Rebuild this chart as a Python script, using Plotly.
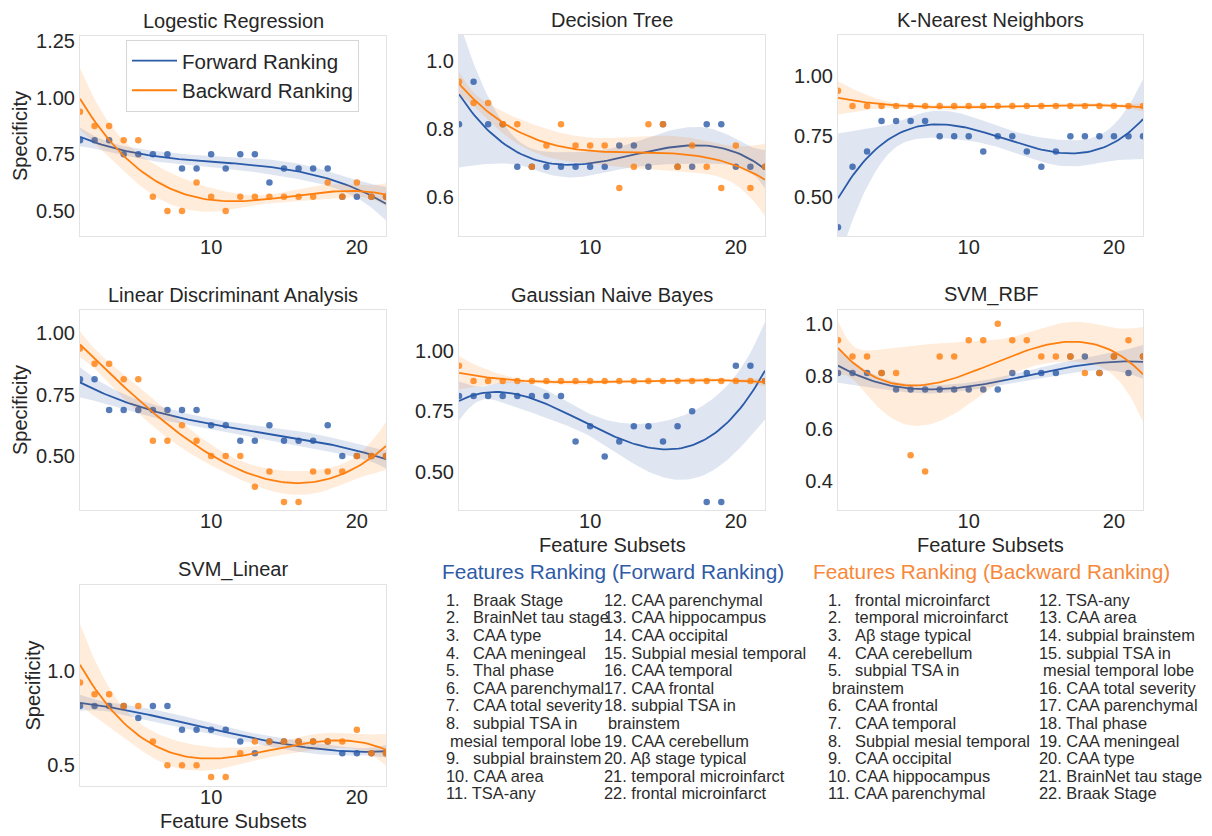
import numpy as np
import plotly.graph_objects as go

# ---------------------------------------------------------------- data
FEATURE_SUBSETS = [1, 2, 3, 4, 5, 6, 7, 8, 9, 10, 11, 12, 13, 14, 15, 16, 17, 18, 19, 20, 21, 22]

LR_FORWARD = [0.8125, 0.8125, 0.8125, 0.75, 0.75, 0.75, 0.75, 0.6875, 0.6875, 0.75, 0.6875,
              0.75, 0.75, 0.625, 0.6875, 0.6875, 0.6875, 0.6875, 0.5625, 0.5625, 0.5625, 0.5625]
LR_BACKWARD = [0.9375, 0.875, 0.875, 0.8125, 0.8125, 0.5625, 0.5, 0.5, 0.625, 0.5625, 0.5,
               0.5625, 0.5625, 0.5625, 0.5625, 0.5625, 0.5625, 0.625, 0.5625, 0.625, 0.5625, 0.5625]

DT_FORWARD = [0.8125, 0.9375, 0.8125, 0.8125, 0.6875, 0.6875, 0.6875, 0.6875, 0.6875, 0.6875, 0.6875,
              0.75, 0.75, 0.6875, 0.8125, 0.6875, 0.6875, 0.8125, 0.8125, 0.6875, 0.6875, 0.6875]
DT_BACKWARD = [0.9375, 0.875, 0.875, 0.8125, 0.8125, 0.6875, 0.75, 0.8125, 0.75, 0.75, 0.75,
               0.625, 0.6875, 0.8125, 0.8125, 0.6875, 0.75, 0.6875, 0.625, 0.75, 0.625, 0.6875]

KNN_FORWARD = [0.375, 0.625, 0.6875, 0.8125, 0.8125, 0.8125, 0.8125, 0.75, 0.75, 0.75, 0.6875,
               0.75, 0.75, 0.6875, 0.625, 0.6875, 0.75, 0.75, 0.75, 0.75, 0.75, 0.75]
KNN_BACKWARD = [0.9375, 0.875, 0.875, 0.875, 0.875, 0.875, 0.875, 0.875, 0.875, 0.875, 0.875,
                0.875, 0.875, 0.875, 0.875, 0.875, 0.875, 0.875, 0.875, 0.875, 0.875, 0.875]

LDA_FORWARD = [0.8125, 0.8125, 0.6875, 0.6875, 0.6875, 0.6875, 0.6875, 0.6875, 0.6875, 0.625, 0.625,
               0.5625, 0.5625, 0.625, 0.5625, 0.5625, 0.5625, 0.625, 0.5, 0.5, 0.5, 0.5]
LDA_BACKWARD = [0.9375, 0.875, 0.875, 0.8125, 0.8125, 0.5625, 0.5625, 0.625, 0.5625, 0.5, 0.5,
                0.5, 0.375, 0.4375, 0.3125, 0.3125, 0.4375, 0.4375, 0.4375, 0.5, 0.5, 0.5]

GNB_FORWARD = [0.8125, 0.8125, 0.8125, 0.8125, 0.8125, 0.8125, 0.8125, 0.8125, 0.625, 0.6875, 0.5625,
               0.625, 0.6875, 0.6875, 0.625, 0.6875, 0.75, 0.375, 0.375, 0.9375, 0.9375, 0.875]
GNB_BACKWARD = [0.9375, 0.875, 0.875, 0.875, 0.875, 0.875, 0.875, 0.875, 0.875, 0.875, 0.875,
                0.875, 0.875, 0.875, 0.875, 0.875, 0.875, 0.875, 0.875, 0.875, 0.875, 0.875]

RBF_FORWARD = [0.8125, 0.8125, 0.8125, 0.8125, 0.75, 0.75, 0.75, 0.75, 0.75, 0.75, 0.75,
               0.75, 0.8125, 0.8125, 0.8125, 0.8125, 0.875, 0.875, 0.8125, 0.875, 0.8125, 0.875]
RBF_BACKWARD = [0.9375, 0.875, 0.875, 0.8125, 0.8125, 0.5, 0.4375, 0.875, 0.875, 0.9375, 0.9375,
                1.0, 0.9375, 0.9375, 0.875, 0.875, 0.875, 0.8125, 0.8125, 0.875, 0.9375, 0.875]

LIN_FORWARD = [0.8125, 0.8125, 0.8125, 0.8125, 0.75, 0.8125, 0.8125, 0.6875, 0.6875, 0.6875, 0.6875,
               0.625, 0.5625, 0.625, 0.625, 0.625, 0.625, 0.625, 0.5625, 0.5625, 0.5625, 0.5625]
LIN_BACKWARD = [0.9375, 0.875, 0.875, 0.8125, 0.8125, 0.625, 0.5, 0.5, 0.5, 0.4375, 0.4375,
                0.5625, 0.625, 0.625, 0.625, 0.625, 0.625, 0.625, 0.625, 0.6875, 0.5625, 0.5625]

MODEL_NAMES = ["Logestic Regression", "Decision Tree", "K-Nearest Neighbors",
               "Linear Discriminant Analysis", "Gaussian Naive Bayes", "SVM_RBF", "SVM_Linear"]

FORWARD_RANKING = ["Braak Stage", "BrainNet tau stage", "CAA type", "CAA meningeal", "Thal phase",
                   "CAA parenchymal", "CAA total severity", "subpial TSA in\nmesial temporal lobe",
                   "subpial brainstem", "CAA area", "TSA-any", "CAA parenchymal", "CAA hippocampus",
                   "CAA occipital", "Subpial mesial temporal", "CAA temporal", "CAA frontal",
                   "subpial TSA in\nbrainstem", "CAA cerebellum", "Aβ stage typical",
                   "temporal microinfarct", "frontal microinfarct"]
BACKWARD_RANKING = ["frontal microinfarct", "temporal microinfarct", "Aβ stage typical", "CAA cerebellum",
                    "subpial TSA in\nbrainstem", "CAA frontal", "CAA temporal", "Subpial mesial temporal",
                    "CAA occipital", "CAA hippocampus", "CAA parenchymal", "TSA-any", "CAA area",
                    "subpial brainstem", "subpial TSA in\nmesial temporal lobe", "CAA total severity",
                    "CAA parenchymal", "Thal phase", "CAA meningeal", "CAA type", "BrainNet tau stage",
                    "Braak Stage"]

# ---------------------------------------------------------------- style
W, H = 1212, 836
FONT = "Liberation Sans, Arial, sans-serif"
TXT = "#262626"
BLUE = "#2a5aa8"
ORANGE = "#ff7f0e"
BLUE_BAND = "rgba(42,90,168,0.15)"
ORANGE_BAND = "rgba(255,127,14,0.15)"


def px_x(p):
    return p / W


def px_y(p):
    return 1 - p / H


def poly_fit_band(x, y, order=3, n=100, z=1.96):
    """Cubic least-squares fit with a 95% band from leverage-adjusted (HC3) errors."""
    x = np.asarray(x, float)
    y = np.asarray(y, float)
    grid = np.linspace(x.min(), x.max(), n)
    X = np.vander(x, order + 1)
    bread = np.linalg.inv(X.T @ X)
    beta = bread @ X.T @ y
    resid = y - X @ beta
    lev = np.einsum("ij,jk,ik->i", X, bread, X)
    w = (resid / (1 - lev)) ** 2
    cov = bread @ (X.T * w) @ X @ bread
    G = np.vander(grid, order + 1)
    fit = G @ beta
    se = np.sqrt(np.einsum("ij,jk,ik->i", G, cov, G))
    return grid, fit, fit - z * se, fit + z * se


# panel: title, forward, backward, pixel box (l, t, r, b), y range, y ticks, tick text, y label, x label
panels = [
    (MODEL_NAMES[0], LR_FORWARD, LR_BACKWARD, (80, 30, 386, 232), (0.388, 1.273),
     [0.5, 0.75, 1.0, 1.25], ["0.50", "0.75", "1.00", "1.25"], True, False),
    (MODEL_NAMES[1], DT_FORWARD, DT_BACKWARD, (459, 29, 765, 232), (0.483, 1.076),
     [0.6, 0.8, 1.0], ["0.6", "0.8", "1.0"], False, False),
    (MODEL_NAMES[2], KNN_FORWARD, KNN_BACKWARD, (838, 29, 1143, 232), (0.338, 1.168),
     [0.5, 0.75, 1.0], ["0.50", "0.75", "1.00"], False, False),
    (MODEL_NAMES[3], LDA_FORWARD, LDA_BACKWARD, (80, 306, 386, 508), (0.279, 1.095),
     [0.5, 0.75, 1.0], ["0.50", "0.75", "1.00"], True, False),
    (MODEL_NAMES[4], GNB_FORWARD, GNB_BACKWARD, (459, 306, 765, 508), (0.340, 1.169),
     [0.5, 0.75, 1.0], ["0.50", "0.75", "1.00"], False, True),
    (MODEL_NAMES[5], RBF_FORWARD, RBF_BACKWARD, (838, 306, 1143, 508), (0.290, 1.053),
     [0.4, 0.6, 0.8, 1.0], ["0.4", "0.6", "0.8", "1.0"], False, True),
    (MODEL_NAMES[6], LIN_FORWARD, LIN_BACKWARD, (80, 583, 386, 786), (0.388, 1.454),
     [0.5, 1.0], ["0.5", "1.0"], True, True),
]

fig = go.Figure()
annotations = []
layout_axes = {}

for i, (title, fwd, bwd, box, yr, yt, ytt, ylab, xlab) in enumerate(panels):
    k = "" if i == 0 else str(i + 1)
    xa, ya = "x" + k, "y" + k
    l, t, r, b = box
    layout_axes["xaxis" + k] = dict(
        domain=[px_x(l), px_x(r)], anchor=ya, range=[1, 22],
        tickvals=[10, 20], ticktext=["10", "20"], showgrid=False, zeroline=False,
        showline=True, mirror=True, linecolor="#e3e3e3", linewidth=1, ticks="",
        ticklabelstandoff=-7,
        tickfont=dict(size=20, color=TXT, family=FONT), fixedrange=True,
    )
    layout_axes["yaxis" + k] = dict(
        domain=[px_y(b), px_y(t)], anchor=xa, range=list(yr),
        tickvals=yt, ticktext=ytt, showgrid=False, zeroline=False,
        showline=True, mirror=True, linecolor="#e3e3e3", linewidth=1, ticks="",
        tickfont=dict(size=20, color=TXT, family=FONT), fixedrange=True,
    )

    for series, color, band, name in ((fwd, BLUE, BLUE_BAND, "Forward Ranking"),
                                      (bwd, ORANGE, ORANGE_BAND, "Backward Ranking")):
        grid, fit, lo, hi = poly_fit_band(FEATURE_SUBSETS, series)
        fig.add_trace(go.Scatter(
            x=FEATURE_SUBSETS, y=series, mode="markers", xaxis=xa, yaxis=ya,
            marker=dict(size=6.5, color=color, opacity=0.8, line=dict(width=0)),
            showlegend=False, hoverinfo="skip"))
        fig.add_trace(go.Scatter(
            x=np.concatenate([grid, grid[::-1]]), y=np.concatenate([hi, lo[::-1]]),
            mode="lines", fill="toself", fillcolor=band, line=dict(width=0),
            xaxis=xa, yaxis=ya, showlegend=False, hoverinfo="skip"))
        fig.add_trace(go.Scatter(
            x=grid, y=fit, mode="lines", xaxis=xa, yaxis=ya, name=name,
            line=dict(color=color, width=1.8), showlegend=(i == 0)))

    cx = (l + r) / 2
    annotations.append(dict(x=px_x(cx), y=px_y(t - 15), xref="paper", yref="paper",
                            text=title, showarrow=False, xanchor="center", yanchor="middle",
                            font=dict(size=20, color=TXT, family=FONT)))
    if ylab:
        lx = 33 if i == 6 else 20
        annotations.append(dict(x=px_x(lx), y=px_y((t + b) / 2), xref="paper", yref="paper",
                                text="Specificity", textangle=-90, showarrow=False,
                                xanchor="center", yanchor="middle",
                                font=dict(size=20, color=TXT, family=FONT)))
    if xlab:
        annotations.append(dict(x=px_x(cx), y=px_y(b + 35), xref="paper", yref="paper",
                                text="Feature Subsets", showarrow=False,
                                xanchor="center", yanchor="middle",
                                font=dict(size=20, color=TXT, family=FONT)))

# ---------------------------------------------------------------- ranking lists
LIST_FONT = dict(size=16.4, color="#2b2b2b", family=FONT)
ROW0, ROW_STEP = 598, 17.73


def place_column(items, start_num, num_x):
    row = 0
    for j, name in enumerate(items):
        num = start_num + j
        parts = name.split("\n")
        y = px_y(ROW0 + row * ROW_STEP)
        if num < 10:
            annotations.append(dict(x=px_x(num_x), y=y, xref="paper", yref="paper",
                                    text=f"{num}.", showarrow=False, xanchor="left",
                                    yanchor="middle", font=LIST_FONT))
            annotations.append(dict(x=px_x(num_x + 27), y=y, xref="paper", yref="paper",
                                    text=parts[0], showarrow=False, xanchor="left",
                                    yanchor="middle", font=LIST_FONT))
        else:
            annotations.append(dict(x=px_x(num_x), y=y, xref="paper", yref="paper",
                                    text=f"{num}. {parts[0]}", showarrow=False,
                                    xanchor="left", yanchor="middle", font=LIST_FONT))
        row += 1
        for extra in parts[1:]:
            annotations.append(dict(x=px_x(num_x + 4), y=px_y(ROW0 + row * ROW_STEP),
                                    xref="paper", yref="paper", text=extra, showarrow=False,
                                    xanchor="left", yanchor="middle", font=LIST_FONT))
            row += 1


annotations.append(dict(x=px_x(440), y=px_y(570), xref="paper", yref="paper",
                        text="Features Ranking (Forward Ranking)", showarrow=False,
                        xanchor="left", yanchor="middle",
                        font=dict(size=20.8, color="#2f5aa6", family=FONT)))
annotations.append(dict(x=px_x(811), y=px_y(570), xref="paper", yref="paper",
                        text="Features Ranking (Backward Ranking)", showarrow=False,
                        xanchor="left", yanchor="middle",
                        font=dict(size=20.8, color="#f7883a", family=FONT)))

place_column(FORWARD_RANKING[:11], 1, 444)
place_column(FORWARD_RANKING[11:], 12, 602)
place_column(BACKWARD_RANKING[:11], 1, 826)
place_column(BACKWARD_RANKING[11:], 12, 1037)

fig.update_layout(
    width=W, height=H, margin=dict(l=0, r=0, t=0, b=0),
    paper_bgcolor="white", plot_bgcolor="white",
    font=dict(family=FONT, color=TXT),
    annotations=annotations,
    legend=dict(x=px_x(126), y=px_y(34), xanchor="left", yanchor="top",
                bgcolor="rgba(255,255,255,0.8)", bordercolor="#d6d6d6", borderwidth=1,
                font=dict(size=20.5, color=TXT, family=FONT), itemwidth=45,
                tracegroupgap=0),
    **layout_axes,
)

fig.write_html("out.html")
